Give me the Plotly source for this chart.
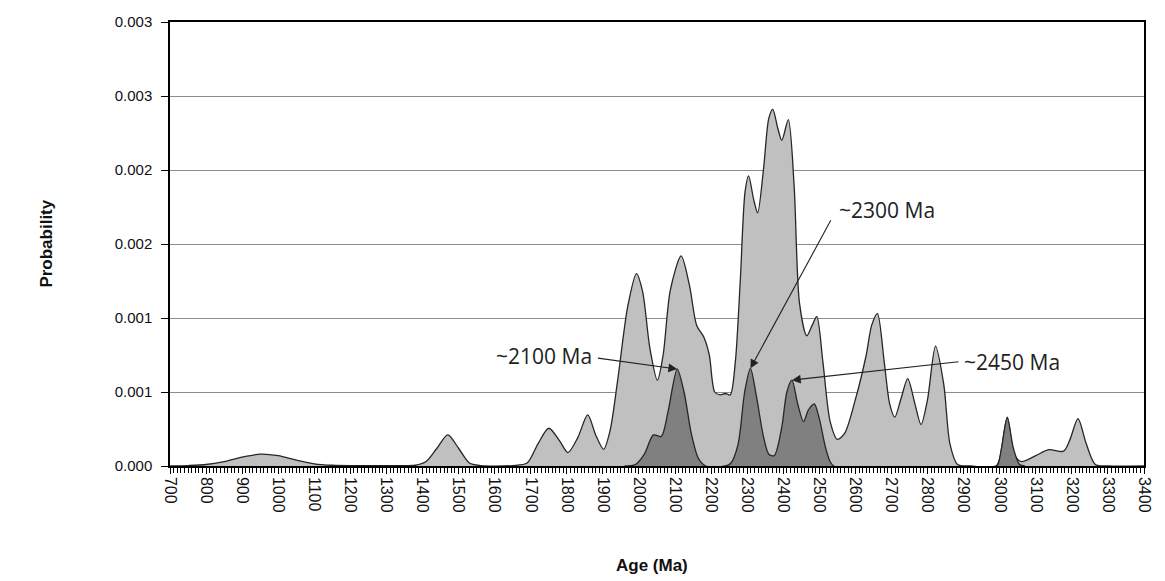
import plotly.graph_objects as go

# ---- data ----
age_all = [700, 750, 800, 850, 900, 950, 1000, 1050, 1100, 1150, 1200, 1300, 1380,
           1410, 1440, 1470, 1500, 1530, 1560, 1650, 1690, 1720, 1750, 1780, 1803,
           1830, 1858, 1880, 1902, 1920, 1941, 1969, 1993, 2010, 2030, 2051, 2067,
           2087, 2117, 2140, 2160, 2180, 2195, 2210, 2225, 2240, 2253, 2267, 2281,
           2294, 2304, 2318, 2329, 2345, 2360, 2371, 2385, 2396, 2414, 2430, 2445,
           2465, 2480, 2493, 2510, 2530, 2550, 2570, 2600, 2630, 2645, 2661, 2680,
           2695, 2709, 2727, 2745, 2765, 2782, 2800, 2822, 2845, 2862, 2883, 2920,
           2990, 3000, 3021, 3040, 3060, 3100, 3136, 3177, 3195, 3217, 3240, 3265,
           3300, 3400]
prob_all = [0, 0.000003, 0.00001, 0.00003, 0.00006, 0.00008, 0.00007, 0.00004, 0.000015,
            0.000005, 0.000002, 0.000003, 0.000005, 0.00003, 0.00012, 0.00021, 0.00012,
            0.00002, 0.000003, 0.000003, 0.00002, 0.00015, 0.000255, 0.00017, 0.00009,
            0.00019, 0.000345, 0.00021, 0.000113, 0.00024, 0.00058, 0.00108, 0.0013,
            0.00118, 0.0008, 0.00058, 0.00075, 0.00119, 0.00142, 0.00122, 0.00095,
            0.00087, 0.00075, 0.0005, 0.00048, 0.00049, 0.00048, 0.0007, 0.00126,
            0.00185, 0.00196, 0.0018, 0.00171, 0.002, 0.00235, 0.00241, 0.00228,
            0.0022, 0.00234, 0.0019, 0.0011, 0.00088, 0.00095, 0.00101, 0.0007,
            0.0003, 0.00018, 0.00022, 0.00045, 0.00075, 0.00095, 0.00103, 0.0007,
            0.00042, 0.00033, 0.00046, 0.00059, 0.00042, 0.00028, 0.00045, 0.00081,
            0.00055, 0.00015, 0.00001, 0, 0, 0.00005, 0.00033, 0.00008, 0.00003,
            0.00007, 0.00011, 0.0001, 0.00018, 0.00032, 0.00015, 0.00001, 0, 0]

age_sub = [1960, 1990, 2015, 2040, 2062, 2080, 2106, 2125, 2145, 2165, 2185, 2240,
           2255, 2275, 2293, 2309, 2325, 2345, 2360, 2375, 2395, 2410, 2424, 2440,
           2456, 2470, 2486, 2500, 2520, 2540, 2990, 2995, 3005, 3021, 3038, 3055, 3070]
prob_sub = [0, 0.00001, 0.00008, 0.00021, 0.0002, 0.00036, 0.000655, 0.0005, 0.00022,
            0.00005, 0, 0, 0.00002, 0.00015, 0.0005, 0.00066, 0.00048, 0.0002, 0.00008,
            0.00007, 0.00025, 0.0005, 0.00058, 0.00042, 0.0003, 0.00038, 0.00042,
            0.00032, 0.0001, 0, 0, 0.00001, 0.00012, 0.000326, 0.00012, 0.00001, 0]

x_ticks = list(range(700, 3401, 100))
y_ticks = [0, 0.0005, 0.001, 0.0015, 0.002, 0.0025, 0.003]
y_ticktext = ["0.000", "0.001", "0.001", "0.002", "0.002", "0.003", "0.003"]

# label, target age, target prob, tail age, tail prob, text age, text prob, anchor
notes = [
    ("~2100 Ma", 2106, 0.000655, 1882, 0.00073, 1876, 0.00074, "right"),
    ("~2300 Ma", 2309, 0.00066, 2534, 0.00167, 2548, 0.00173, "left"),
    ("~2450 Ma", 2424, 0.00058, 2890, 0.000705, 2896, 0.000705, "left"),
]

fig = go.Figure()
fig.add_trace(go.Scatter(x=age_all, y=prob_all, mode="lines", fill="tozeroy",
                         fillcolor="#c0c0c0", line=dict(color="#262626", width=1.3,
                         shape="spline", smoothing=0.8), showlegend=False))
fig.add_trace(go.Scatter(x=age_sub, y=prob_sub, mode="lines", fill="tozeroy",
                         fillcolor="#808080", line=dict(color="#262626", width=1.3,
                         shape="spline", smoothing=0.8), showlegend=False))

for label, tx, ty, ax_, ay_, lx, ly, anchor in notes:
    fig.add_annotation(x=tx, y=ty, ax=ax_, ay=ay_, axref="x", ayref="y",
                       text="", showarrow=True, arrowhead=2, arrowsize=1.6,
                       arrowwidth=1.1, arrowcolor="#222")
    fig.add_annotation(x=lx, y=ly, text=label, showarrow=False, xanchor=anchor,
                       font=dict(family="Open Sans, Arial", size=21, color="#222"))

fig.add_annotation(xref="paper", yref="paper", x=0.495, y=-0.223, text="<b>Age (Ma)</b>",
                   showarrow=False, xanchor="center", yanchor="middle",
                   font=dict(family="Arial", size=17, color="#111"))
fig.add_annotation(xref="paper", yref="paper", x=-0.1277, y=0.5, text="<b>Probability</b>",
                   textangle=-90, showarrow=False, xanchor="center", yanchor="middle",
                   font=dict(family="Arial", size=17, color="#111"))

fig.update_layout(
    width=1165, height=581, margin=dict(l=170, r=16, t=22, b=115),
    paper_bgcolor="white", plot_bgcolor="white",
    font=dict(family="Arial", size=14, color="#111"),
    xaxis=dict(range=[700, 3400], tickvals=x_ticks, tickangle=90, showgrid=False,
               showline=True, linecolor="black", linewidth=1.5, mirror=True,
               ticks="outside", ticklen=6, tickcolor="black",
               minor=dict(dtick=10, ticks="outside", ticklen=5, tickcolor="black"),
               zeroline=False, tickfont=dict(size=16)),
    yaxis=dict(range=[0, 0.003], tickvals=y_ticks, ticktext=y_ticktext,
               showgrid=True, gridcolor="#8c8c8c", gridwidth=1,
               showline=True, linecolor="black", linewidth=1.5, mirror=True,
               ticks="outside", ticklen=7, tickcolor="black", zeroline=False,
               ticklabelstandoff=6, tickfont=dict(size=15)),
)

fig.write_html("out.html")
